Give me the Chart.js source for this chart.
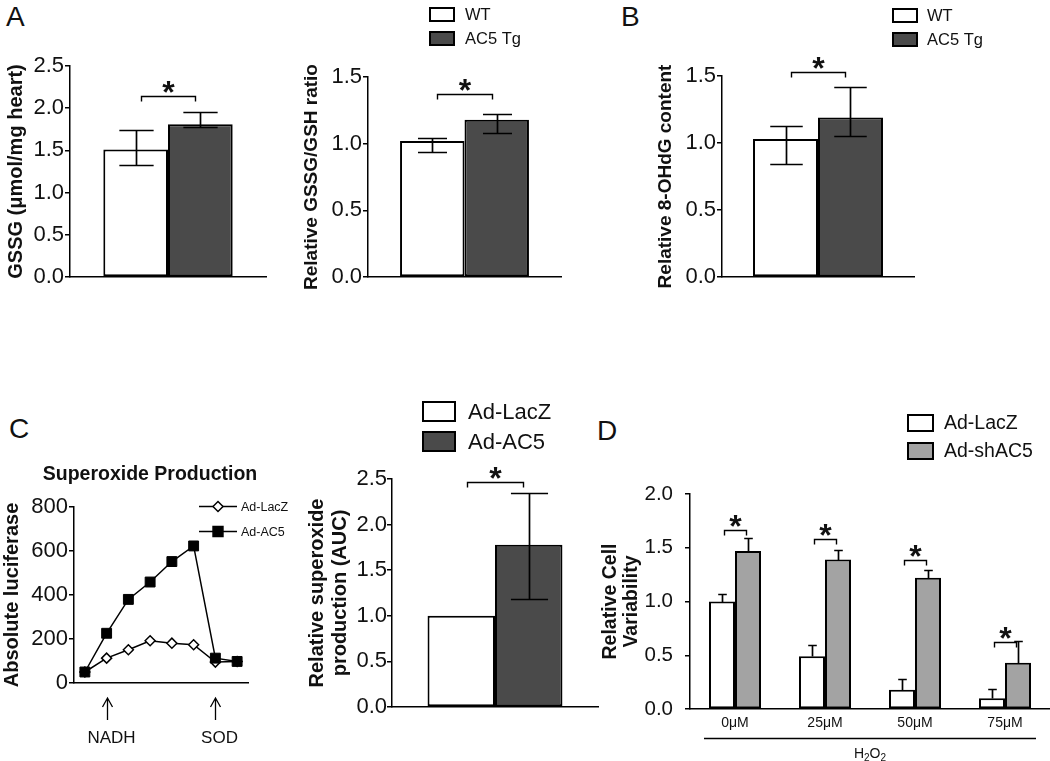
<!DOCTYPE html>
<html>
<head>
<meta charset="utf-8">
<script src="https://cdn.jsdelivr.net/npm/chart.js"></script>
<style>
body { margin: 0; background: #fff; }
#fig { position: relative; width: 1050px; height: 761px; overflow: hidden; font-family: 'Liberation Sans', Arial, sans-serif; color: #111; }
#fig canvas { position: absolute; }
.tag { position: absolute; font-size: 28px; line-height: 28px; }
</style>
</head>
<body>
<div id="fig">
  <div class="tag" style="left:6px;top:3px">A</div>
  <div class="tag" style="left:621px;top:3px">B</div>
  <div class="tag" style="left:9px;top:415px">C</div>
  <div class="tag" style="left:597px;top:417px">D</div>
  <canvas id="gssg" width="288" height="263" style="left:0px;top:36px"></canvas>
  <canvas id="ratio" width="281" height="299" style="left:290px;top:0px"></canvas>
  <canvas id="ohdg" width="405" height="299" style="left:645px;top:0px"></canvas>
  <canvas id="curve" width="300" height="306" style="left:0px;top:455px"></canvas>
  <canvas id="auc" width="308" height="342" style="left:300px;top:395px"></canvas>
  <canvas id="viab" width="460" height="361" style="left:590px;top:400px"></canvas>
</div>
<script>
// ---- values ----
// A: heart GSSG and GSSG/GSH ratio (WT, AC5 Tg)
var groupsA = ['WT', 'AC5 Tg'];
var gssgMean = [1.51, 1.81];
var gssgHi = [1.74, 1.96];
var gssgLo = [1.33, 1.78];
var ratioMean = [1.02, 1.18];
var ratioHi = [1.045, 1.225];
var ratioLo = [0.94, 1.08];
// B: 8-OHdG
var ohdgMean = [1.03, 1.19];
var ohdgHi = [1.13, 1.42];
var ohdgLo = [0.84, 1.05];
// C: superoxide time course and AUC
var timePoints = ['1', '2', '3', '4', '5', '6', '7', '8'];
var lacZCurve = [50, 113, 151, 192, 181, 174, 95, 98];
var ac5Curve = [50, 226, 380, 459, 552, 623, 113, 98];
var additions = [{ at: 1, text: 'NADH' }, { at: 6, text: 'SOD' }];
var groupsC = ['Ad-LacZ', 'Ad-AC5'];
var aucMean = [1.0, 1.78];
var aucHi = [null, 2.35];
var aucLo = [null, 1.18];
// D: cell viability vs H2O2
var groupsD = ['Ad-LacZ', 'Ad-shAC5'];
var doses = ['0μM', '25μM', '50μM', '75μM'];
var lacZViab = [1.0, 0.49, 0.18, 0.10];
var lacZViabHi = [1.07, 0.60, 0.28, 0.19];
var shViab = [1.47, 1.39, 1.22, 0.43];
var shViabHi = [1.59, 1.48, 1.29, 0.63];
// significance bracket levels (axis units)
var sigGssg = [2.15];
var sigRatio = [1.37];
var sigOhdg = [1.53];
var sigAuc = [2.47];
var sigViab = [1.665, 1.58, 1.386, 0.62];

var DARK = '#4a4a4a';
var GREY = '#a3a3a3';
var FONT = "'Liberation Sans', Arial, sans-serif";

Chart.defaults.font.family = FONT;
Chart.defaults.color = '#111';
Chart.defaults.animation = false;
Chart.defaults.plugins.legend.display = false;
Chart.defaults.plugins.tooltip.enabled = false;

// error bars: whiskers from errLo (or bar top) to errHi
var errorBars = {
    id: 'errorBars',
    afterDatasetsDraw: function (chart, args, o) {
        var ctx = chart.ctx, ys = chart.scales.y;
        ctx.save();
        ctx.strokeStyle = '#000';
        ctx.lineWidth = 1.7;
        chart.data.datasets.forEach(function (ds, i) {
            if (!ds.errHi) return;
            chart.getDatasetMeta(i).data.forEach(function (b, j) {
                var hi = ds.errHi[j];
                if (hi == null) return;
                var lo = ds.errLo ? ds.errLo[j] : ds.data[j];
                var half = b.width * o.cap / 2;
                var x = Math.round(b.x) + 0.5;
                var yh = Math.round(ys.getPixelForValue(hi)) + 0.5;
                var yl = Math.round(ys.getPixelForValue(lo)) + 0.5;
                ctx.beginPath();
                ctx.moveTo(x, yh); ctx.lineTo(x, yl);
                ctx.moveTo(x - half, yh); ctx.lineTo(x + half, yh);
                if (ds.errLo) { ctx.moveTo(x - half, yl); ctx.lineTo(x + half, yl); }
                ctx.stroke();
            });
        });
        ctx.restore();
    }
};

// brackets with a star between dataset 0 and dataset 1 of each category
var sigBrackets = {
    id: 'sigBrackets',
    afterDatasetsDraw: function (chart, args, o) {
        var ctx = chart.ctx, ys = chart.scales.y;
        var m0 = chart.getDatasetMeta(0), m1 = chart.getDatasetMeta(1);
        ctx.save();
        ctx.strokeStyle = '#000';
        ctx.lineWidth = 1.4;
        o.at.forEach(function (v, j) {
            var b0 = m0.data[j], b1 = m1.data[j];
            var x0 = Math.round(b0.x + b0.width * 0.08) + 0.5;
            var x1 = Math.round(b1.x - b1.width * 0.08) + 0.5;
            var y = Math.round(ys.getPixelForValue(v)) + 0.5;
            ctx.beginPath();
            ctx.moveTo(x0, y + 5); ctx.lineTo(x0, y); ctx.lineTo(x1, y); ctx.lineTo(x1, y + 5);
            ctx.stroke();
            ctx.fillStyle = '#111';
            ctx.font = 'bold ' + o.size + 'px ' + FONT;
            ctx.textAlign = 'center';
            ctx.textBaseline = 'alphabetic';
            ctx.fillText('*', (x0 + x1) / 2, y - 12 + 0.57 * o.size);
        });
        ctx.restore();
    }
};

// boxed legend drawn at a given spot of the canvas
var boxLegend = {
    id: 'boxLegend',
    afterDraw: function (chart, args, o) {
        var ctx = chart.ctx;
        ctx.save();
        ctx.font = o.size + 'px ' + FONT;
        ctx.textBaseline = 'middle';
        ctx.textAlign = 'left';
        chart.data.datasets.forEach(function (ds, i) {
            var y = o.y + i * o.step;
            ctx.fillStyle = ds.backgroundColor;
            ctx.fillRect(o.x, y, o.w, o.h);
            ctx.lineWidth = 2;
            ctx.strokeStyle = '#000';
            ctx.strokeRect(o.x, y, o.w, o.h);
            ctx.fillStyle = '#111';
            ctx.fillText(ds.label, o.x + o.w + o.gap, y + o.h / 2 + 1);
        });
        ctx.restore();
    }
};

// title, arrows under the time course and line legend
var curveNotes = {
    id: 'curveNotes',
    afterDraw: function (chart, args, o) {
        var ctx = chart.ctx, xs = chart.scales.x, a = chart.chartArea;
        ctx.save();
        ctx.fillStyle = '#111';
        ctx.textAlign = 'center';
        ctx.textBaseline = 'middle';
        ctx.font = 'bold 19.5px ' + FONT;
        ctx.fillText(o.title, o.titleX, o.titleY);

        ctx.strokeStyle = '#000';
        ctx.lineWidth = 1.3;
        ctx.font = '17px ' + FONT;
        additions.forEach(function (m) {
            var x = Math.round(xs.getPixelForValue(m.at)) + 0.5;
            var top = a.bottom + 15, bot = a.bottom + 37;
            ctx.beginPath();
            ctx.moveTo(x, bot); ctx.lineTo(x, top);
            ctx.moveTo(x - 5, top + 9); ctx.lineTo(x, top); ctx.lineTo(x + 5, top + 9);
            ctx.stroke();
            ctx.fillText(m.text, x + 4, a.bottom + 55);
        });

        ctx.font = '12.5px ' + FONT;
        ctx.textAlign = 'left';
        chart.data.datasets.forEach(function (ds, i) {
            var y = o.y + i * o.step + 0.5;
            ctx.lineWidth = 1.5;
            ctx.strokeStyle = '#000';
            ctx.beginPath();
            ctx.moveTo(o.x, y); ctx.lineTo(o.x + 38, y);
            ctx.stroke();
            ctx.fillStyle = ds.pointBackgroundColor;
            Chart.helpers.drawPoint(ctx, { pointStyle: ds.pointStyle, radius: ds.pointRadius, borderWidth: 1.5, rotation: 0 }, o.x + 19, y);
            ctx.fillStyle = '#111';
            ctx.fillText(ds.label, o.x + 42, y + 1);
        });
        ctx.restore();
    }
};

// H2O2 line under the dose axis
var doseNote = {
    id: 'doseNote',
    afterDraw: function (chart) {
        var ctx = chart.ctx, a = chart.chartArea;
        ctx.save();
        ctx.strokeStyle = '#000';
        ctx.lineWidth = 1.5;
        ctx.beginPath();
        ctx.moveTo(a.left + 14, a.bottom + 29.5);
        ctx.lineTo(a.right - 14, a.bottom + 29.5);
        ctx.stroke();
        var parts = [['H', 14, 0], ['2', 10, 3], ['O', 14, 0], ['2', 10, 3]];
        var w = 0;
        parts.forEach(function (p) { ctx.font = p[1] + 'px ' + FONT; w += ctx.measureText(p[0]).width; });
        var x = (a.left + a.right) / 2 - w / 2;
        ctx.fillStyle = '#111';
        ctx.textBaseline = 'alphabetic';
        parts.forEach(function (p) {
            ctx.font = p[1] + 'px ' + FONT;
            ctx.fillText(p[0], x, a.bottom + 49 + p[2]);
            x += ctx.measureText(p[0]).width;
        });
        ctx.restore();
    }
};

function valueAxis(max, step, width, title, o) {
    return {
        min: 0,
        max: max,
        grid: { drawOnChartArea: false, tickLength: 5, color: '#000', lineWidth: 1.5 },
        border: { color: '#000', width: 1.5 },
        ticks: {
            stepSize: step,
            padding: o.tickPad,
            font: { size: o.tickSize },
            color: '#111',
            callback: function (v) { return o.decimals ? v.toFixed(1) : v; }
        },
        title: {
            display: true,
            text: title,
            color: '#111',
            font: { size: o.titleSize, weight: 'bold', lineHeight: o.lineHeight || 1.2 },
            padding: { top: o.titlePad, bottom: 0 }
        },
        afterFit: function (s) { s.width = width; }
    };
}

function baseAxis(height, showTicks) {
    return {
        offset: true,
        grid: { display: false, drawTicks: false },
        border: { color: '#000', width: 1.5 },
        ticks: { display: showTicks, font: { size: 14 }, padding: 6, color: '#111', maxRotation: 0, autoSkip: false },
        afterFit: function (s) { s.height = height; }
    };
}

function bar(label, values, color, hi, lo) {
    return {
        label: label, data: values, backgroundColor: color,
        borderColor: '#000', borderWidth: 2, borderSkipped: false,
        errHi: hi, errLo: lo
    };
}

// A left: GSSG
new Chart(document.getElementById('gssg'), {
    type: 'bar',
    data: {
        labels: [''],
        datasets: [
            bar(groupsA[0], [gssgMean[0]], '#fff', [gssgHi[0]], [gssgLo[0]]),
            bar(groupsA[1], [gssgMean[1]], DARK, [gssgHi[1]], [gssgLo[1]])
        ]
    },
    options: {
        responsive: false,
        layout: { padding: { top: 30, right: 22 } },
        datasets: { bar: { categoryPercentage: 0.66, barPercentage: 1 } },
        scales: {
            x: baseAxis(22, false),
            y: valueAxis(2.5, 0.5, 70, 'GSSG (μmol/mg heart)', { tickSize: 22, tickPad: 1, decimals: true, titleSize: 20, titlePad: 4 })
        },
        plugins: { errorBars: { cap: 0.53 }, sigBrackets: { at: sigGssg, size: 32 } }
    },
    plugins: [errorBars, sigBrackets]
});

// A right: GSSG/GSH ratio
new Chart(document.getElementById('ratio'), {
    type: 'bar',
    data: {
        labels: [''],
        datasets: [
            bar(groupsA[0], [ratioMean[0]], '#fff', [ratioHi[0]], [ratioLo[0]]),
            bar(groupsA[1], [ratioMean[1]], DARK, [ratioHi[1]], [ratioLo[1]])
        ]
    },
    options: {
        responsive: false,
        layout: { padding: { top: 77, right: 10 } },
        datasets: { bar: { categoryPercentage: 0.668, barPercentage: 1 } },
        scales: {
            x: baseAxis(22, false),
            y: valueAxis(1.5, 0.5, 78, 'Relative GSSG/GSH ratio', { tickSize: 22, tickPad: 1, decimals: true, titleSize: 19, titlePad: 10 })
        },
        plugins: {
            errorBars: { cap: 0.45 },
            sigBrackets: { at: sigRatio, size: 32 },
            boxLegend: { x: 140, y: 8, step: 24, w: 24, h: 13, gap: 11, size: 16.5 }
        }
    },
    plugins: [errorBars, sigBrackets, boxLegend]
});

// B: 8-OHdG
new Chart(document.getElementById('ohdg'), {
    type: 'bar',
    data: {
        labels: [''],
        datasets: [
            bar(groupsA[0], [ohdgMean[0]], '#fff', [ohdgHi[0]], [ohdgLo[0]]),
            bar(groupsA[1], [ohdgMean[1]], DARK, [ohdgHi[1]], [ohdgLo[1]])
        ]
    },
    options: {
        responsive: false,
        layout: { padding: { top: 76, right: 136 } },
        datasets: { bar: { categoryPercentage: 0.677, barPercentage: 1 } },
        scales: {
            x: baseAxis(22, false),
            y: valueAxis(1.5, 0.5, 77, 'Relative 8-OHdG content', { tickSize: 22, tickPad: 1, decimals: true, titleSize: 19, titlePad: 9 })
        },
        plugins: {
            errorBars: { cap: 0.5 },
            sigBrackets: { at: sigOhdg, size: 32 },
            boxLegend: { x: 248, y: 9, step: 24, w: 24, h: 13, gap: 10, size: 16.5 }
        }
    },
    plugins: [errorBars, sigBrackets, boxLegend]
});

// C left: superoxide time course
new Chart(document.getElementById('curve'), {
    type: 'line',
    data: {
        labels: timePoints,
        datasets: [{
            label: groupsC[0],
            data: lacZCurve,
            order: 1,
            borderColor: '#000',
            borderWidth: 1.5,
            pointStyle: 'rectRot',
            pointRadius: 5,
            pointBackgroundColor: '#fff',
            pointBorderColor: '#000',
            pointBorderWidth: 1.5
        }, {
            label: groupsC[1],
            data: ac5Curve,
            order: 0,
            borderColor: '#000',
            borderWidth: 1.5,
            pointStyle: 'rect',
            pointRadius: 7,
            pointBackgroundColor: '#000',
            pointBorderColor: '#000',
            pointBorderWidth: 1
        }]
    },
    options: {
        responsive: false,
        layout: { padding: { top: 52, right: 52 } },
        scales: {
            x: baseAxis(78, false),
            y: valueAxis(800, 200, 74, 'Absolute luciferase', { tickSize: 22, tickPad: 1, titleSize: 20, titlePad: 0 })
        },
        plugins: {
            curveNotes: { title: 'Superoxide Production', titleX: 150, titleY: 20, x: 199, y: 51, step: 25 }
        }
    },
    plugins: [curveNotes]
});

// C right: AUC
new Chart(document.getElementById('auc'), {
    type: 'bar',
    data: {
        labels: [''],
        datasets: [
            bar(groupsC[0], [aucMean[0]], '#fff', [aucHi[0]], [aucLo[0]]),
            bar(groupsC[1], [aucMean[1]], DARK, [aucHi[1]], [aucLo[1]])
        ]
    },
    options: {
        responsive: false,
        layout: { padding: { top: 84, right: 10 } },
        datasets: { bar: { categoryPercentage: 0.655, barPercentage: 1 } },
        scales: {
            x: baseAxis(30, false),
            y: valueAxis(2.5, 0.5, 92, ['Relative superoxide', 'production (AUC)'], { tickSize: 22, tickPad: 0, decimals: true, titleSize: 20, titlePad: 5.5, lineHeight: 1.15 })
        },
        plugins: {
            errorBars: { cap: 0.55 },
            sigBrackets: { at: sigAuc, size: 32 },
            boxLegend: { x: 123, y: 7, step: 30, w: 32, h: 19, gap: 13, size: 22 }
        }
    },
    plugins: [errorBars, sigBrackets, boxLegend]
});

// D: cell viability
new Chart(document.getElementById('viab'), {
    type: 'bar',
    data: {
        labels: doses,
        datasets: [
            bar(groupsD[0], lacZViab, '#fff', lacZViabHi),
            bar(groupsD[1], shViab, GREY, shViabHi)
        ]
    },
    options: {
        responsive: false,
        layout: { padding: { top: 94, right: 0 } },
        datasets: { bar: { categoryPercentage: 0.578, barPercentage: 1 } },
        scales: {
            x: baseAxis(52, true),
            y: valueAxis(2.0, 0.5, 100, ['Relative Cell', 'Variability'], { tickSize: 20.5, tickPad: 12, decimals: true, titleSize: 19.5, titlePad: 9.5, lineHeight: 1.1 })
        },
        plugins: {
            errorBars: { cap: 0.33 },
            sigBrackets: { at: sigViab, size: 32 },
            boxLegend: { x: 318, y: 15, step: 28, w: 25, h: 16, gap: 11, size: 19.5 }
        }
    },
    plugins: [errorBars, sigBrackets, boxLegend, doseNote]
});
</script>
</body>
</html>
